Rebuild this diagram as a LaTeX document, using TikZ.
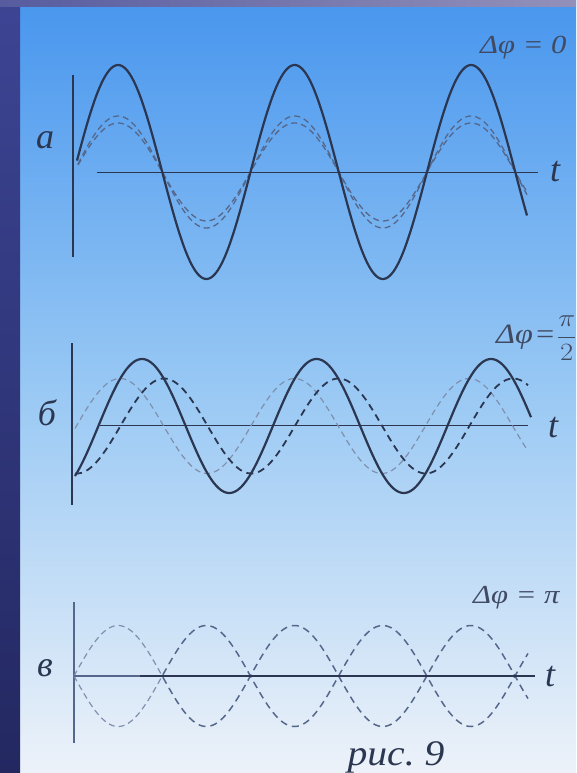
\documentclass[tikz,border=0pt]{standalone}
\usepackage{fontspec}
\usepackage{graphicx}
\setmainfont{Liberation Serif}
\definecolor{ink}{HTML}{2B3651}
\definecolor{inkl}{HTML}{55678A}
\definecolor{inkf}{HTML}{7F90AE}
\definecolor{bgtop}{HTML}{4896EE}
\definecolor{bgmid}{HTML}{98C8F4}
\definecolor{bgbot}{HTML}{EDF2F9}
\definecolor{navyt}{HTML}{3D4594}
\definecolor{navyb}{HTML}{232861}
\definecolor{lav}{HTML}{9391BA}
\tikzset{
  axisline/.style={draw=ink, line width=0.9pt},
  vaxis/.style={draw=ink, line width=1.4pt},
  solidwave/.style={draw=ink, line width=2.2pt, smooth},
  dashwave/.style={draw=inkl, line width=1.3pt, dash pattern=on 6pt off 4pt, smooth},
  dashthick/.style={draw=ink, line width=1.8pt, dash pattern=on 7pt off 5pt, smooth},
  dashfaint/.style={draw=inkf, line width=1.2pt, dash pattern=on 6pt off 4pt, smooth},
  lbl/.style={text=ink, font=\fontsize{36}{40}\selectfont\itshape, inner sep=0pt},
  dphi/.style={text=ink!90!white, font=\fontsize{26}{30}\selectfont\itshape, inner sep=0pt, anchor=base west},
}
\begin{document}
\begin{tikzpicture}[x=1pt,y=-1pt]
\useasboundingbox (0,0) rectangle (576,773);
% background
\shade[top color=bgtop, bottom color=bgbot, middle color=bgmid] (0,0) rectangle (576,773);
\shade[top color=navyt, bottom color=navyb] (0,0) rectangle (20,773);
\shade[left color=navyt!70!lav, right color=lav] (0,0) rectangle (576,7);

% ---------- panel a ----------
\draw[vaxis] (73,75) -- (73,257);
\draw[axisline] (97,172) -- (538,172);
\draw[dashwave, domain=78:527, samples=220, variable=\x] plot (\x,{172-56*sin(2.0397*(\x-74))});
\draw[dashwave, domain=78:527, samples=220, variable=\x] plot (\x,{172-49*sin(2.0397*(\x-74))});
\draw[solidwave, domain=77:527, samples=240, variable=\x] plot (\x,{172-107*sin(2.0397*(\x-74))});
\node[lbl] (la) at (45,140) {а};
\node[lbl] (ta) at (555,172) {t};
\node[dphi] (da) at (480,54) {\scalebox{1.18}[1]{Δφ = 0}};

% ---------- panel b ----------
\draw[vaxis] (72,343) -- (72,505);
\draw[axisline] (100,425) -- (528,425);
\draw[dashfaint, domain=75:528, samples=220, variable=\x] plot (\x,{426-47.5*sin(2.0630*(\x-76.4))});
\draw[dashthick, domain=75:528, samples=220, variable=\x] plot (\x,{426-47.5*sin(2.0630*(\x-120.4))});
\draw[solidwave, domain=75:531, samples=240, variable=\x] plot (\x,{426-67*sin(2.0630*(\x-98.4))});
\node[lbl] (lb) at (47,413) {б};
\node[lbl] (tb) at (553,428) {t};
\node[dphi, font=\fontsize{28}{32}\selectfont\itshape] (db) at (496,343) {\scalebox{1.15}[1]{Δφ\kern1pt=\kern1pt$\displaystyle\frac{\pi}{2}$}};

% ---------- panel c ----------
\draw[draw=inkl, line width=1.1pt] (74,602) -- (74,743);
\draw[dashfaint, domain=74:163, samples=80, variable=\x] plot (\x,{676-50.5*sin(2.0408*(\x-74))});
\draw[dashfaint, domain=74:163, samples=80, variable=\x] plot (\x,{676+50.5*sin(2.0408*(\x-74))});
\draw[dashthick, line width=1.5pt, draw=inkl, domain=163:528, samples=220, variable=\x] plot (\x,{676-50.5*sin(2.0408*(\x-74))});
\draw[dashthick, line width=1.5pt, draw=inkl, domain=163:528, samples=220, variable=\x] plot (\x,{676+50.5*sin(2.0408*(\x-74))});
\draw[draw=inkl, line width=1.8pt] (74,676) -- (140,676);
\draw[draw=ink, line width=2pt] (140,676) -- (535,676);
\node[lbl] (lc) at (45,668) {в};
\node[lbl] (tc) at (550,677) {t};
\node[dphi] (dc) at (473,603) {\scalebox{1.18}[1]{Δφ = π}};

\node[lbl, anchor=base] (cap) at (396,765) {\scalebox{1.1}[1]{рис.\ 9}};
\end{tikzpicture}
\end{document}
